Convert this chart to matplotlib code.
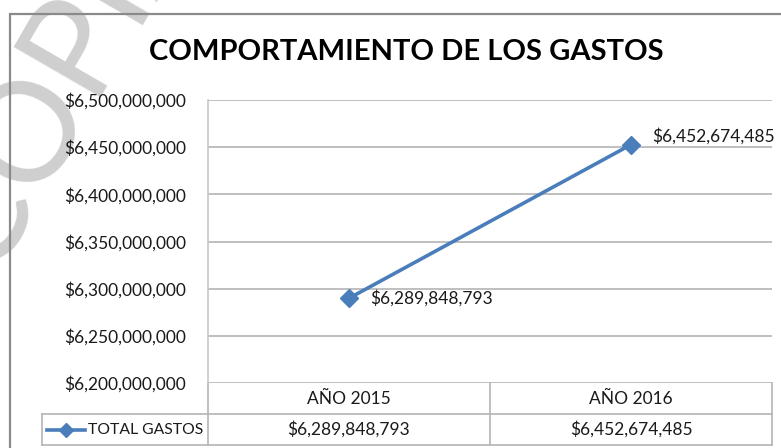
import matplotlib.pyplot as plt
from matplotlib.lines import Line2D
from matplotlib.patches import Rectangle
from matplotlib.ticker import FuncFormatter
import matplotlib.transforms as mtransforms

plt.rcParams['font.family'] = ['Lato', 'DejaVu Sans']

# data
categories = ['AÑO 2015', 'AÑO 2016']
series_name = 'TOTAL GASTOS'
total_gastos = [6289848793, 6452674485]
y_ticks = [6.20e9, 6.25e9, 6.30e9, 6.35e9, 6.40e9, 6.45e9, 6.50e9]

W, H = 781, 448
fig = plt.figure(figsize=(W / 100, H / 100), dpi=100)

blue = '#4a7ebb'
grid_c = '#b4b4b4'
text_c = '#1a1a1a'

# plot area in pixels: x 208..772, y 100..383
ax = fig.add_axes([208 / W, (H - 383) / H, 564 / W, 283 / H])
ax.set_facecolor('none')
ax.set_xlim(-0.5, len(categories) - 0.5)
ax.set_ylim(y_ticks[0], y_ticks[-1])
ax.set_yticks(y_ticks)
ax.yaxis.set_major_formatter(FuncFormatter(lambda v, p: '${:,.0f}'.format(v)))
ax.tick_params(axis='y', length=0, pad=16, labelsize=12.5, labelcolor=text_c)
ax.set_xticks([])
ax.grid(axis='y', color=grid_c, lw=1.2)
for s in ['top', 'right', 'bottom']:
    ax.spines[s].set_visible(False)
ax.spines['left'].set_color('#c8c8c8')
ax.spines['left'].set_linewidth(1.2)

x = list(range(len(categories)))
ax.plot(x, total_gastos, color=blue, lw=2.6, marker='D', markersize=9.5,
        clip_on=False, zorder=3)

# data labels
ax.annotate('${:,.0f}'.format(total_gastos[0]), (x[0], total_gastos[0]),
            xytext=(15, 0), textcoords='offset points', va='center',
            ha='left', fontsize=12.5, color=text_c)
ax.annotate('${:,.0f}'.format(total_gastos[1]), (x[1], total_gastos[1]),
            xytext=(15, 6), textcoords='offset points', va='center',
            ha='left', fontsize=12.5, color=text_c)

# data table under the plot
row_h = 31 / 283
tbl_left = (42 - 208) / 564
line_kw = dict(transform=ax.transAxes, color=grid_c, lw=1.2, clip_on=False)
ax.add_line(Line2D([0, 0], [0, -2 * row_h], **line_kw))
ax.add_line(Line2D([0.5, 0.5], [0, -2 * row_h], **line_kw))
ax.add_line(Line2D([1, 1], [0, -2 * row_h], **line_kw))
ax.add_line(Line2D([tbl_left, 1], [-row_h, -row_h], **line_kw))
ax.add_line(Line2D([tbl_left, 1], [-2 * row_h, -2 * row_h], **line_kw))
ax.add_line(Line2D([tbl_left, tbl_left], [-row_h, -2 * row_h], **line_kw))

trans = mtransforms.blended_transform_factory(ax.transData, ax.transAxes)
for i, cat in enumerate(categories):
    ax.text(i, -row_h / 2, cat, transform=trans, ha='center', va='center',
            fontsize=12.5, color=text_c)
    ax.text(i, -1.5 * row_h, '${:,.0f}'.format(total_gastos[i]), transform=trans,
            ha='center', va='center', fontsize=12.5, color=text_c)

# legend key inside the table
kx0, kx1 = (47 - 208) / 564, (85 - 208) / 564
ax.add_line(Line2D([kx0, kx1], [-1.5 * row_h] * 2, transform=ax.transAxes,
                   color=blue, lw=2.6, clip_on=False))
ax.add_line(Line2D([(kx0 + kx1) / 2], [-1.5 * row_h], transform=ax.transAxes,
                   color=blue, marker='D', markersize=7, clip_on=False))
ax.text((88 - 208) / 564, -1.5 * row_h, series_name, transform=ax.transAxes,
        ha='left', va='center', fontsize=11.3, color=text_c)

# title
fig.text(406 / W, 1 - 52 / H, 'COMPORTAMIENTO DE LOS GASTOS', ha='center',
         va='center', fontsize=21, fontweight='bold', color='black')

# chart frame
fig.add_artist(Rectangle((10 / W, -0.1), 1.2, (H - 14) / H + 0.1,
                         transform=fig.transFigure, fill=False,
                         edgecolor='#8a8a8a', lw=1.6))

# watermark
fig.text(-0.0117, 0.3775, 'COPIA', rotation=60, rotation_mode='anchor',
         ha='left', va='baseline', fontsize=100, color='#cfcfcf', zorder=-1)

fig.savefig('out.png', dpi=100)
